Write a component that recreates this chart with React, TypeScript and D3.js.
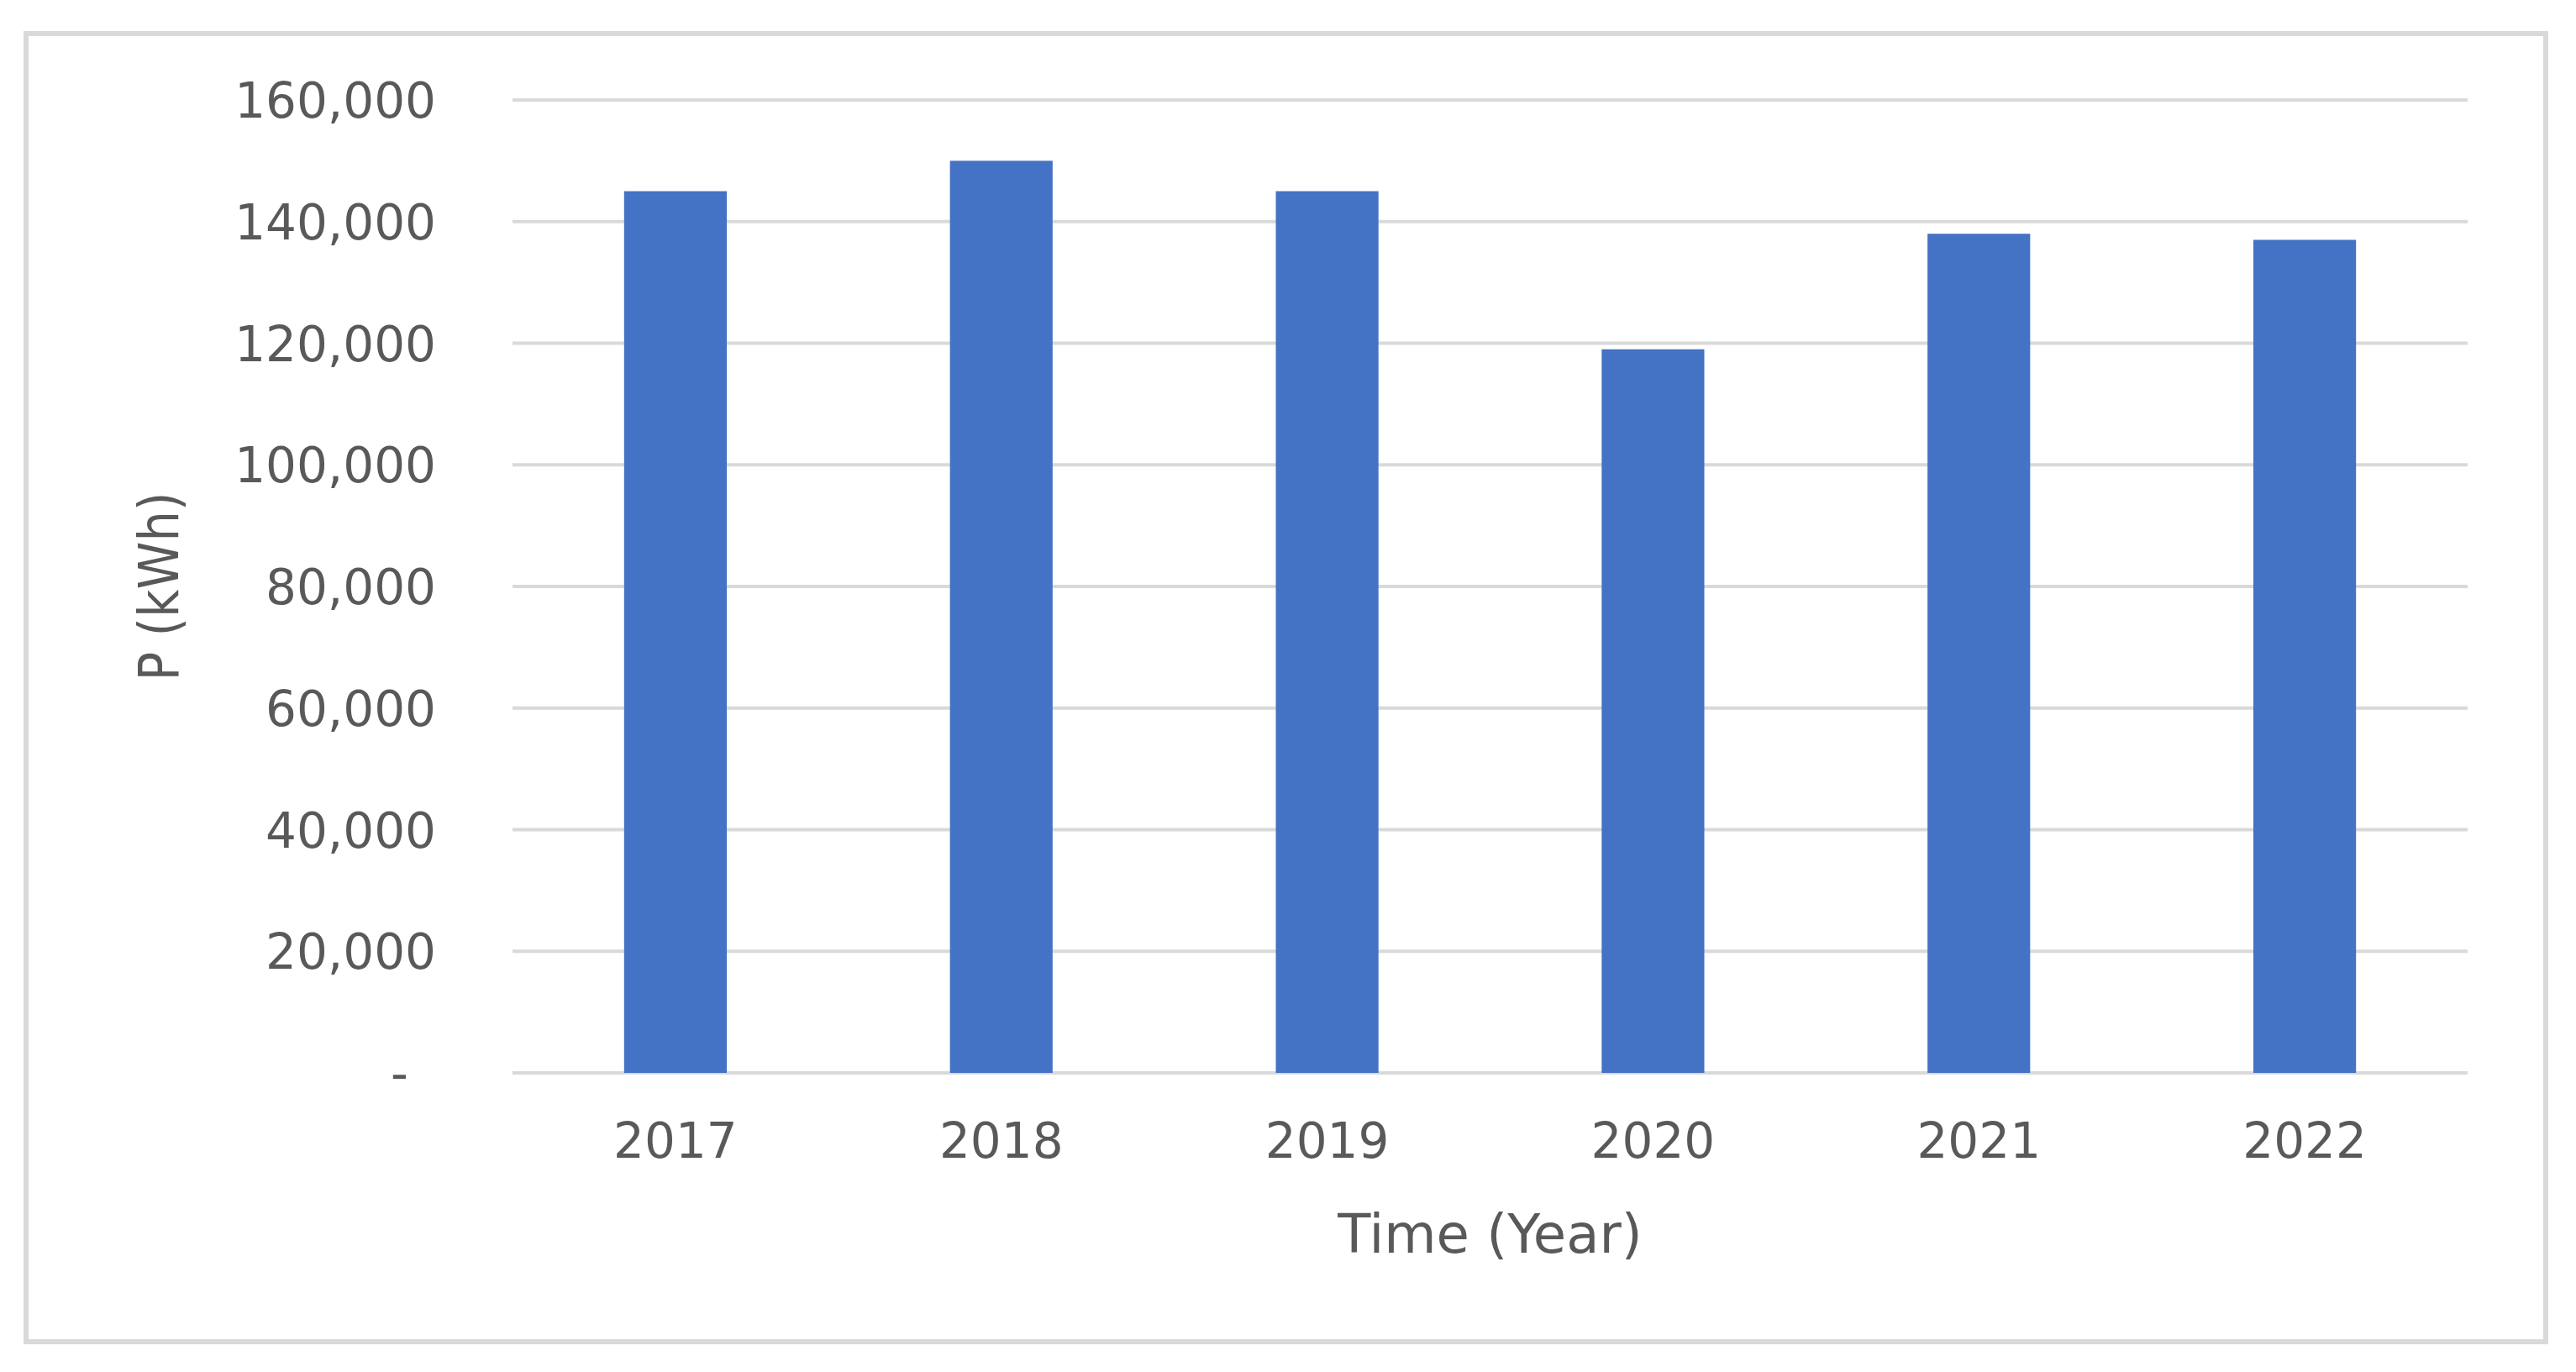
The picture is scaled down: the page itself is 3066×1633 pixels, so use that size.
import React from "react";
import * as d3 from "d3";

const width = 3066;
const height = 1633;

// values
const years = ["2017", "2018", "2019", "2020", "2021", "2022"];
const energy = [145000, 150000, 145000, 119000, 138000, 137000];
const yTicks = [0, 20000, 40000, 60000, 80000, 100000, 120000, 140000, 160000];

const plotLeft = 610;
const plotRight = 2937;
const plotTop = 119;
const plotBottom = 1277;

const fontFamily = "'DejaVu Sans', Verdana, sans-serif";
const textColor = "#595959";

const x = d3
  .scaleBand<string>()
  .domain(years)
  .range([plotLeft, plotRight])
  .paddingInner(0.685)
  .paddingOuter(0.3425);

const y = d3.scaleLinear().domain([0, 160000]).range([plotBottom, plotTop]);

const fmt = d3.format(",");

const App = () => {
  return (
    <svg
      width={width}
      height={height}
      style={{ position: "absolute", left: 0, top: 0, background: "#fff" }}
    >
      <rect x={0} y={0} width={width} height={height} fill="#fff" />
      {/* chart frame */}
      <rect x={31} y={40} width={2999} height={1557} fill="#fff" stroke="#d9d9d9" strokeWidth={6} />

      {/* gridlines */}
      {yTicks.map(t => (
        <line
          key={"g" + t}
          x1={plotLeft}
          x2={plotRight}
          y1={y(t)}
          y2={y(t)}
          stroke="#d9d9d9"
          strokeWidth={4}
        />
      ))}

      {/* bars */}
      {years.map((yr, i) => (
        <rect
          key={yr}
          x={x(yr)}
          y={y(energy[i])}
          width={x.bandwidth()}
          height={y(0) - y(energy[i])}
          fill="#4472C4"
        />
      ))}

      {/* y tick labels */}
      {yTicks.map(t => (
        <text
          key={"t" + t}
          x={t === 0 ? 486 : 519}
          y={y(t) + 21}
          textAnchor="end"
          fontFamily={fontFamily}
          fontSize={58}
          fill={textColor}
        >
          {t === 0 ? "-" : fmt(t)}
        </text>
      ))}

      {/* x tick labels */}
      {years.map(yr => (
        <text
          key={"x" + yr}
          x={(x(yr) as number) + x.bandwidth() / 2}
          y={1378}
          textAnchor="middle"
          fontFamily={fontFamily}
          fontSize={58}
          fill={textColor}
        >
          {yr}
        </text>
      ))}

      {/* axis titles */}
      <text
        x={(plotLeft + plotRight) / 2}
        y={1491}
        textAnchor="middle"
        fontFamily={fontFamily}
        fontSize={64}
        fill={textColor}
      >
        Time (Year)
      </text>
      <text
        transform={`translate(212, ${(plotTop + plotBottom) / 2}) rotate(-90)`}
        textAnchor="middle"
        fontFamily={fontFamily}
        fontSize={66}
        fill={textColor}
        textLength={225}
        lengthAdjust="spacingAndGlyphs"
      >
        P (kWh)
      </text>
    </svg>
  );
};

export default App;
